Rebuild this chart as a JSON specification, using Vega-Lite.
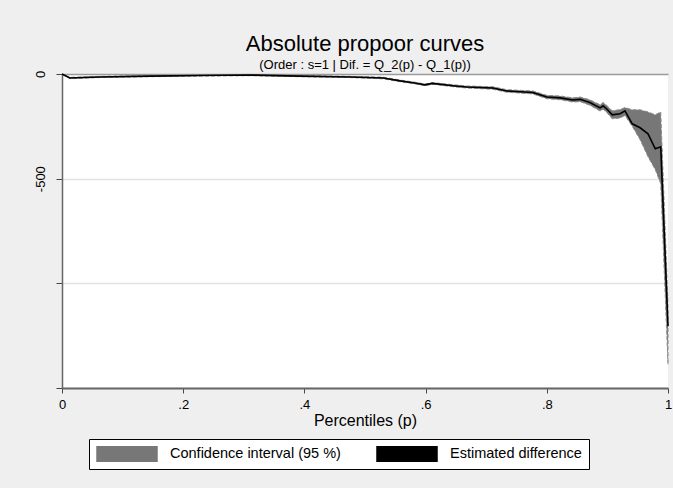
{
  "$schema": "https://vega.github.io/schema/vega-lite/v6.json",
  "width": 606,
  "height": 314,
  "autosize": "none",
  "padding": {"left": 62, "top": 74, "right": 5, "bottom": 100},
  "background": "#efefef",
  "config": {
    "font": "Liberation Sans",
    "view": {"fill": "white", "stroke": null},
    "axis": {"labelColor": "black", "titleColor": "black", "labelFont": "Liberation Sans", "titleFont": "Liberation Sans", "titleFontWeight": "normal"}
  },
  "title": {
    "text": "Absolute propoor curves",
    "subtitle": "(Order : s=1 | Dif. = Q_2(p) - Q_1(p))",
    "anchor": "middle",
    "fontSize": 22,
    "fontWeight": "normal",
    "color": "black",
    "subtitleFontSize": 13,
    "subtitleColor": "black",
    "subtitlePadding": 3,
    "offset": -3
  },
  "data": {
    "values": [
      {"p": 0, "est": 0, "lo": -2, "hi": 0},
      {"p": 0.013, "est": -19, "lo": -22, "hi": -16},
      {"p": 0.063, "est": -14, "lo": -17, "hi": -11},
      {"p": 0.145, "est": -10, "lo": -13, "hi": -7},
      {"p": 0.228, "est": -7, "lo": -10, "hi": -4},
      {"p": 0.31, "est": -5, "lo": -8, "hi": -2},
      {"p": 0.393, "est": -10, "lo": -13, "hi": -7},
      {"p": 0.475, "est": -14, "lo": -17, "hi": -11},
      {"p": 0.53, "est": -19, "lo": -23, "hi": -15},
      {"p": 0.558, "est": -33, "lo": -37, "hi": -29},
      {"p": 0.582, "est": -43, "lo": -47, "hi": -39},
      {"p": 0.599, "est": -52, "lo": -56, "hi": -48},
      {"p": 0.611, "est": -45, "lo": -49, "hi": -41},
      {"p": 0.649, "est": -57, "lo": -62, "hi": -52},
      {"p": 0.668, "est": -62, "lo": -67, "hi": -57},
      {"p": 0.711, "est": -67, "lo": -73, "hi": -61},
      {"p": 0.734, "est": -81, "lo": -87, "hi": -75},
      {"p": 0.777, "est": -88, "lo": -95, "hi": -81},
      {"p": 0.8, "est": -110, "lo": -118, "hi": -102},
      {"p": 0.822, "est": -114, "lo": -123, "hi": -105},
      {"p": 0.843, "est": -124, "lo": -134, "hi": -114},
      {"p": 0.855, "est": -121, "lo": -132, "hi": -110},
      {"p": 0.871, "est": -136, "lo": -149, "hi": -123},
      {"p": 0.888, "est": -162, "lo": -177, "hi": -147},
      {"p": 0.893, "est": -152, "lo": -168, "hi": -136},
      {"p": 0.899, "est": -167, "lo": -184, "hi": -150},
      {"p": 0.908, "est": -195, "lo": -214, "hi": -176},
      {"p": 0.921, "est": -190, "lo": -210, "hi": -170},
      {"p": 0.929, "est": -176, "lo": -198, "hi": -160},
      {"p": 0.941, "est": -238, "lo": -250, "hi": -171},
      {"p": 0.954, "est": -257, "lo": -314, "hi": -171},
      {"p": 0.967, "est": -286, "lo": -395, "hi": -181},
      {"p": 0.979, "est": -357, "lo": -457, "hi": -195},
      {"p": 0.988, "est": -348, "lo": -524, "hi": -181},
      {"p": 1, "est": -1205, "lo": -1386, "hi": -1100}
    ]
  },
  "layer": [
    {
      "mark": {"type": "area", "stroke": "#8c8c8c", "strokeWidth": 1, "strokeDash": [4, 2]},
      "encoding": {
        "x": {
          "field": "p", "type": "quantitative",
          "scale": {"domain": [0, 1], "nice": false},
          "axis": {
            "values": [0, 0.2, 0.4, 0.6, 0.8, 1],
            "labelExpr": "datum.value == 0 ? '0' : datum.value == 1 ? '1' : replace(format(datum.value, '.1f'), '0.', '.')",
            "title": "Percentiles (p)",
            "titleFontSize": 16,
            "titlePadding": 1,
            "labelFontSize": 13,
            "labelPadding": 5,
            "labelFlush": false,
            "grid": false,
            "domainColor": "#666666",
            "domainWidth": 2,
            "tickColor": "#444444",
            "tickSize": 5,
            "tickWidth": 1
          }
        },
        "y": {
          "field": "lo", "type": "quantitative",
          "scale": {"domain": [-1500, 0], "nice": false, "zero": false},
          "axis": {
            "values": [0, -500, -1000, -1500],
            "labelExpr": "datum.value == 0 ? '0' : datum.value == -500 ? '-500' : ''",
            "title": null,
            "labelAngle": -90,
            "labelFontSize": 13,
            "labelPadding": 9,
            "encode": {"labels": {"dy": {"value": {"expr": "datum.value == -500 ? -27 : 0"}}}},
            "grid": true,
            "gridColor": {"condition": {"test": "datum.value == 0", "value": "#9a9a9a"}, "value": "#e3e3e3"},
            "gridWidth": 1.5,
            "domainColor": "#666666",
            "domainWidth": 1.5,
            "tickColor": "#444444",
            "tickSize": 6,
            "tickWidth": 1
          }
        },
        "y2": {"field": "hi"},
        "color": {
          "datum": "Confidence interval (95 %)",
          "type": "nominal",
          "scale": {"domain": ["Confidence interval (95 %)", "Estimated difference"], "range": ["#777777", "#000000"]},
          "legend": {
            "title": null,
            "orient": "none",
            "legendX": 27,
            "legendY": 365,
            "direction": "horizontal",
            "columns": 2,
            "gridAlign": "all",
            "columnPadding": 35,
            "padding": 7,
            "fillColor": "white",
            "strokeColor": "black",
            "cornerRadius": 0,
            "labelFont": "Liberation Sans",
            "labelFontSize": 14.5,
            "labelColor": "black",
            "labelOffset": 12,
            "labelLimit": 400,
            "symbolType": "M-1,-0.26H1V0.26H-1Z",
            "symbolSize": 3600,
            "clipHeight": 16,
            "encode": {
              "symbols": {
                "shape": {"value": {"expr": "datum.value === 'Estimated difference' ? 'M-1,0H1' : 'M-1,-0.26H1V0.26H-1Z'"}},
                "fill": {"value": {"expr": "datum.value === 'Estimated difference' ? 'transparent' : '#777777'"}},
                "stroke": {"value": {"expr": "datum.value === 'Estimated difference' ? '#000000' : '#8c8c8c'"}},
                "strokeWidth": {"value": 1.3}
              }
            }
          }
        }
      }
    },
    {
      "mark": {"type": "line", "strokeWidth": 1.6},
      "encoding": {
        "x": {"field": "p", "type": "quantitative"},
        "y": {"field": "est", "type": "quantitative"},
        "color": {"datum": "Estimated difference", "type": "nominal"}
      }
    }
  ]
}
